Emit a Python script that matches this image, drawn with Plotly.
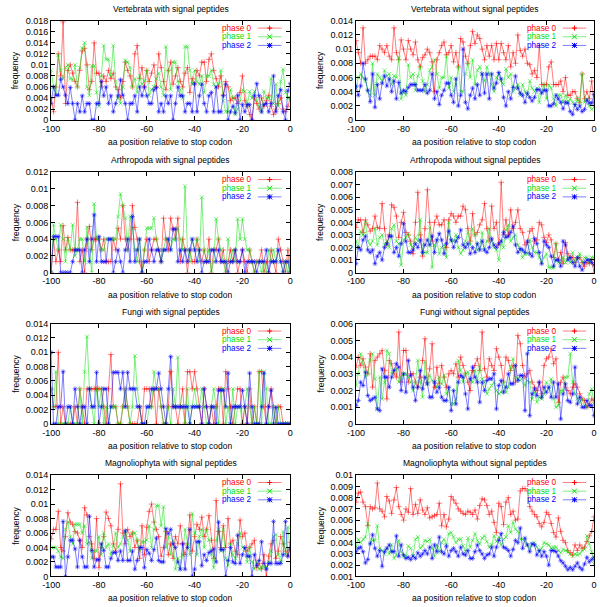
import plotly.graph_objects as go
from plotly.subplots import make_subplots

# positions along the sequence, aa relative to the stop codon
positions = list(range(-100, 1))

# frequencies, all given in units of 1e-3
vert_sp_p0 = [4, 1.5, 6, 12, 8, 17.8, 3, 9, 10, 8.5,
              7, 6, 9, 12.5, 13, 10, 5.5, 7, 14, 8.5,
              8.5, 6, 8, 7, 9, 7.5, 8.5, 6, 5.5, 4,
              7, 10.5, 9, 8, 6, 12, 13.5, 7.5, 9.5, 6,
              9, 7, 8.5, 10, 6, 12, 9.5, 7, 5.5, 9,
              10.5, 6.5, 8, 9.5, 7, 6, 8.5, 9.5, 5, 7.5,
              6.5, 9, 8, 10.5, 10.5, 7, 11, 12, 9, 7.5,
              6, 8, 4.5, 7, 6, 3.5, 4, 4, 3, 5,
              8, 3.5, 2.5, 1, 0, 4, 3, 2, 4, 2.5,
              3.5, 4.5, 2.5, 1, 2, 3, 4, 2, 1.5, 2.5, 4]
vert_sp_p1 = [9, 6, 5, 11.8, 9, 7.5, 9.5, 10, 7.5, 7.3,
              10, 6, 9.5, 13, 14, 6, 4.5, 9.8, 9.8, 5,
              2.5, 8, 13.5, 11, 11, 8, 13.5, 7, 4, 3,
              6, 10.8, 10.5, 9.5, 6, 7.5, 5, 8, 6.5, 7,
              9, 4.5, 5.5, 6, 7.5, 8.5, 6, 4.5, 13.3, 9,
              5.5, 10.5, 10.5, 7, 5.5, 4, 13.3, 13.3, 9, 6.5,
              9, 7, 6.5, 8, 5, 8, 8, 9, 6.5, 6,
              6.5, 9, 3.5, 1.5, 1.5, 5.5, 4, 1, 2, 3.5,
              5.5, 5.2, 2.5, 5.2, 4, 5.2, 3.5, 2.5, 1.5, 5.2,
              4, 4, 7.5, 3, 6.5, 2.5, 7, 9.2, 5, 4, 4]
vert_sp_p2 = [3, 6, 4.5, 4.5, 7.4, 6, 4.5, 3, 5.9, 3,
              0, 3, 1.5, 4.4, 1.5, 3, 3, 0, 0, 3,
              3, 7, 4.4, 6, 3, 4.4, 1.5, 3, 4.4, 7.3,
              4.5, 3, 0, 3, 3, 4.4, 1.5, 6, 4.4, 6,
              4.4, 3, 3, 5.5, 5.9, 1.5, 3, 1.5, 4.4, 3,
              4.4, 0, 3, 6, 4.4, 4.4, 1.5, 3, 3, 1.5,
              6.6, 1.5, 4.4, 6.5, 3, 1.5, 4.4, 5, 1.5, 6,
              1.5, 1.5, 4.4, 6.5, 0, 1.5, 2.5, 1.3, 4.5, 0,
              2.8, 1.5, 2.8, 2.8, 0, 4.4, 6.6, 4.4, 1.5, 2.8,
              3, 1.5, 3, 8, 1.5, 4.4, 5.5, 1.5, 0, 5.3, 6.6]

vert_nosp_p0 = [11.2, 9.5, 8, 13, 8, 8.5, 9, 9, 9, 8.5,
                10.5, 10, 9.5, 10.5, 9, 8.5, 13, 9.5, 8.5, 11.3,
                10, 8.5, 11.2, 10, 9.2, 11, 8.5, 7.5, 8.8, 9.2,
                10, 9.5, 8.2, 4, 8.5, 9.5, 10.5, 11, 9.2, 9.5,
                10.5, 8.2, 9.5, 7.5, 11.5, 11, 9, 8, 10.5, 12.5,
                10.8, 12, 11.5, 10, 8.5, 10.5, 9, 10.5, 8.5, 10.8,
                8.5, 10.8, 9.5, 8.5, 10.5, 7.5, 9.5, 8, 12, 9.8,
                9, 10, 8, 7.8, 6.5, 7, 6, 10.5, 5, 5,
                5, 7.5, 8.2, 5, 5, 5, 5.5, 4, 6, 3.5,
                3.5, 4, 4, 3, 2.5, 6.5, 3, 4, 3, 5.5, 2.5]
vert_nosp_p1 = [4.5, 6, 6.5, 6, 5.5, 4, 3.5, 8, 3.5, 6.5,
                6, 5.5, 7, 6.2, 6.5, 5, 6.2, 6, 8.8, 3,
                4, 3.5, 7.8, 6, 6.5, 4.2, 6.2, 7.5, 5.5, 4,
                5, 7, 7.5, 8.5, 6.5, 4.5, 6, 6, 9, 4.5,
                6, 4, 5, 7.5, 4, 4, 6.5, 8, 6, 8.5,
                5, 7, 7.5, 6.5, 5.5, 7.5, 6.5, 5, 4, 6,
                6.5, 5.5, 5, 7.2, 6, 6.5, 4, 4.5, 5, 3.5,
                5, 4, 3.5, 5.5, 4.5, 4, 4.5, 2.5, 4, 5,
                3, 5, 4.5, 3, 2, 3.5, 3.5, 2.5, 3.5, 2.5,
                3, 2.5, 2, 3, 2.5, 6.5, 2.5, 3, 2, 1.5, 1.8]
vert_nosp_p2 = [4.8, 3.5, 4.8, 8, 5.8, 4.2, 2.6, 6.5, 1.8, 5,
                3, 5.2, 6.2, 4.8, 5.8, 4, 5.5, 3, 5.3, 3.8,
                4.2, 4, 4.6, 5, 5, 5, 4.2, 4.2, 4.2, 5,
                3.8, 4.2, 6.5, 3, 4, 2.2, 3.5, 4.2, 5.2, 5.2,
                3.5, 2.5, 5.8, 2, 3.5, 10, 2.5, 1.6, 3.5, 4.5,
                3, 5, 3.5, 6.5, 3.8, 6.5, 3, 6.5, 4.5, 5.2,
                6.7, 5.8, 3.2, 2, 4, 3, 4.6, 6.2, 4.5, 3.8,
                3.5, 2.5, 3.8, 3.2, 2.7, 3.2, 4.3, 4.3, 3.8, 4.2,
                4.2, 2, 2, 2.3, 3.5, 3, 2.5, 1.6, 2.5, 2.4,
                1.2, 0.8, 2.2, 1.5, 2, 1.2, 1.5, 2.8, 2.4, 2.4, 3.6]

arth_sp_p0 = [0, 4, 1.3, 2.7, 1.3, 5.6, 2.7, 4.2, 2.7, 2.7,
              2.7, 8.4, 1.3, 2.7, 0, 4, 5.5, 2.7, 4, 4,
              4, 2.7, 4, 1.3, 1.3, 1.3, 4, 2.7, 5.3, 4,
              8, 4, 2.7, 4, 8, 5.4, 4, 1.3, 0, 2.7,
              4, 1.3, 2.7, 4, 4, 2.7, 1.3, 6.5, 4, 2.7,
              6.5, 5.2, 4, 6.5, 1.3, 4, 2.7, 0, 2.7, 1.3,
              1.3, 4, 2.7, 1.3, 2.7, 1.3, 4, 0, 2.7, 2.7,
              4, 1.3, 2.7, 0, 1.3, 2.7, 1.3, 2.7, 0, 1.3,
              2.7, 1.3, 0, 2.7, 1.3, 0, 1.3, 1.3, 2.7, 0,
              1.3, 0, 2.7, 1.3, 0, 4, 2.7, 1.3, 0, 2.7, 0]
arth_sp_p1 = [0, 5.7, 4, 2.7, 5.7, 4, 1.3, 4, 2.7, 5.7,
              2, 2.7, 4, 4, 1.3, 5.4, 2.7, 0, 8.2, 4,
              4, 2.7, 2.7, 4, 4, 4, 4, 4, 6.7, 9.4,
              8, 6.5, 2.7, 6.7, 5.3, 2.7, 1.3, 4, 0, 2.7,
              5.3, 5.3, 5.3, 6.5, 4, 2.7, 1.3, 2.7, 4, 4,
              2.7, 4, 4, 5.3, 4, 2.7, 10.3, 2.7, 1.3, 4,
              2.7, 4, 1.3, 9, 2.7, 1.3, 2.7, 0, 1.3, 6.4,
              4, 2.7, 1.3, 0, 4, 1.3, 2.7, 1.3, 6.4, 4,
              6.4, 4, 2.7, 2.7, 1.3, 0, 1.3, 1.3, 0, 1.3,
              0, 2.7, 1.3, 2.7, 1.3, 2.7, 1.3, 0, 1.3, 0, 2.7]
arth_sp_p2 = [0, 4.3, 4.3, 4.3, 0, 0, 0, 0, 0, 1.3,
              2.7, 2.7, 2.7, 0, 2.7, 4, 1.3, 4, 6.9, 1.3,
              4.3, 1.3, 1.3, 1.3, 4, 4, 0, 1.3, 2.7, 1.3,
              0, 2.7, 4, 1.3, 6.7, 1.3, 2.7, 4, 0, 1.3,
              1.3, 4, 2.7, 1.3, 2.7, 2.7, 1.3, 2.7, 2.7, 4,
              2.7, 5.2, 5.2, 1.3, 2.7, 1.3, 2.7, 1.3, 2.7, 4,
              2.7, 1.3, 2.7, 0, 1.3, 1.3, 1.3, 2.7, 2.7, 1.3,
              2.7, 1.3, 1.3, 1.3, 0, 1.3, 1.3, 2.7, 1.3, 1.3,
              2.7, 0, 1.3, 1.3, 1.3, 1.3, 0, 1.3, 1.3, 1.3,
              2.7, 0, 1.3, 1.3, 1.3, 2.7, 1.3, 0, 1.3, 1.3, 0]

arth_nosp_p0 = [3.6, 4.2, 4.2, 3.2, 4.2, 3.8, 3.3, 3.5, 4.5, 3.6,
                3.5, 5.5, 3.5, 2.2, 3, 5.4, 5.2, 4.5, 2.8, 4,
                4.8, 3.2, 3, 2.5, 1.5, 4, 6.4, 3, 1.3, 3.5,
                6.6, 4, 2.5, 4, 4.5, 3.8, 3.8, 4.2, 2, 4.2,
                4.7, 4.5, 4, 4.5, 4.5, 5.3, 5, 3.5, 2.5, 4.7,
                3, 3.2, 3.8, 4.2, 5.5, 3.5, 2.5, 5.3, 3.5, 4,
                2.2, 7.2, 3, 4.2, 3, 5, 3.5, 4, 5, 3.5,
                3.2, 2.2, 2.4, 3.3, 3.5, 2.5, 2.6, 4, 3.8, 2.8,
                2.4, 3, 2.6, 1.2, 2.3, 1, 1.6, 0.7, 2.4, 1.5,
                1.2, 1.2, 0.8, 1.1, 1.2, 0.8, 0.5, 0.8, 0.7, 1, 0]
arth_nosp_p1 = [2.5, 2, 3.3, 3, 4, 2.5, 2.2, 2.5, 3.5, 2.2,
                2.8, 3, 2.2, 2.5, 2, 3.5, 3.8, 2.5, 2.3, 0.6,
                2.6, 2.8, 3.1, 2.2, 2, 2.8, 2.5, 4.2, 1.5, 1.6,
                1.6, 3.6, 0.4, 2.2, 2.5, 1.5, 2, 2.2, 1.2, 4,
                2.5, 2.5, 3, 2, 1.5, 1.8, 2.5, 3.2, 2.2, 3.5,
                3, 1.8, 2, 3.2, 1.8, 2.5, 3.5, 2.5, 2, 1.8,
                1, 2.5, 2, 3.4, 3.8, 2.5, 2.8, 3, 2.2, 1.8,
                1.2, 1.5, 1.5, 2.6, 2, 1.6, 1.6, 1.2, 0.8, 1.2,
                1.5, 0.4, 0.4, 0.4, 2.3, 0.8, 0.8, 1.2, 0.8, 1.2,
                0.8, 1.6, 0.8, 1.2, 1.5, 0.8, 1.2, 1.2, 0.8, 1.2, 1.2]
arth_nosp_p2 = [0.7, 2, 1.8, 2.6, 2.9, 1.8, 1.6, 1.8, 0.7, 1.3,
                1.6, 1, 2, 2.3, 2.9, 2.9, 1.6, 2, 1.3, 2.3,
                3.9, 2.5, 1.6, 1.6, 1.8, 2.3, 2, 2.6, 1.6, 2.2,
                2.6, 2.2, 2.9, 1.6, 2.6, 3.1, 2.6, 1.5, 2.3, 3.3,
                2.6, 2, 2.5, 2.8, 3.4, 2.2, 2, 2.3, 1.5, 2,
                1.6, 2.3, 1.8, 2.5, 1.8, 1.6, 2, 2.7, 2.2, 2,
                2.3, 2.5, 3.2, 2.8, 2.9, 3.2, 3.7, 2.2, 1.6, 1.9,
                1.8, 1.6, 2.5, 1.5, 1.3, 2.7, 2.3, 1.6, 0.7, 2.5,
                2.2, 2, 1.3, 0.5, 1, 1, 0.5, 2.5, 2.2, 1,
                1.2, 0.8, 0.5, 1.2, 0.5, 0.2, 0.8, 1, 1, 0.8, 0.6]

fungi_sp_p0 = [4.9, 2.4, 2.4, 10, 0, 2.4, 0, 0, 0, 0,
               2.4, 0, 4.9, 2.4, 0, 4.9, 4.9, 4.9, 4.9, 4.9,
               4.9, 4.9, 2.4, 0, 4.9, 9.7, 2.4, 2.4, 0, 0,
               2.4, 4.9, 2.4, 0, 0, 0, 0, 2.4, 0, 4.9,
               4.9, 4.9, 2.4, 4.9, 0, 4.9, 2.4, 0, 0, 2.4,
               7.3, 2.4, 2.4, 0, 2.4, 4.9, 0, 7.3, 7.3, 4.9,
               7.3, 4.9, 2.4, 0, 4.9, 2.4, 0, 2.4, 0, 2.4,
               4.9, 4.9, 0, 7.3, 4.9, 2.4, 0, 2.4, 4.9, 4.9,
               0, 2.4, 0, 4.9, 0, 2.4, 0, 7.3, 7.3, 2.4,
               0, 2.4, 4.9, 2.4, 0, 2.4, 2.4, 0, 0, 0, 0]
fungi_sp_p1 = [4.9, 2.4, 7.3, 0, 0, 0, 0, 0, 2.4, 0,
               0, 0, 4.9, 0, 7.3, 12.2, 4.9, 2.4, 0, 4.9,
               2.4, 4.9, 0, 2.4, 0, 2.4, 2.4, 2.4, 0, 0,
               2.4, 4.9, 2.4, 0, 2.4, 9.5, 4.9, 2.4, 0, 0,
               0, 2.4, 2.4, 7.3, 4.9, 4.9, 2.4, 0, 0, 2.4,
               0, 4.9, 2.4, 9.3, 2.4, 2.4, 0, 4.9, 0, 2.4,
               4.9, 2.4, 2.4, 4.9, 2.4, 0, 0, 2.4, 4.9, 2.4,
               0, 4.9, 4.9, 0, 2.4, 0, 4.9, 0, 2.4, 2.4,
               0, 2.4, 4.9, 2.4, 0, 2.4, 0, 7.3, 0, 7.3,
               4.9, 0, 0, 2.4, 0, 2.4, 0, 0, 0, 0, 0]
fungi_sp_p2 = [10, 0, 0, 2.4, 2.4, 7.3, 0, 2.4, 2.4, 0,
               4.9, 2.4, 0, 2.4, 2.4, 0, 4.9, 2.4, 2.4, 7.2,
               0, 2.4, 4.9, 4.9, 0, 2.4, 7.2, 7.2, 7.2, 4.9,
               7.2, 2.4, 7.2, 4.9, 4.9, 4.9, 2.4, 2.4, 0, 0,
               2.4, 2.4, 4.9, 4.9, 4.9, 7.1, 4.9, 2.4, 0, 4.9,
               9.4, 2.4, 2.4, 2.4, 2.4, 2.4, 2.4, 2.4, 0, 2.4,
               2.4, 2.4, 2.4, 0, 4.9, 2.4, 0, 2.4, 2.4, 0,
               4.7, 4.7, 4.7, 2.4, 7.1, 0, 2.4, 2.4, 2.4, 2.4,
               4.7, 2.4, 0, 7.1, 2.4, 0, 0, 0, 2.4, 7.1,
               0, 2.4, 4.7, 0, 2.3, 0, 0, 0, 0, 0, 0]

fungi_nosp_p0 = [3.4, 4, 3.5, 3.9, 3.4, 3, 4.2, 2.2, 3.8, 4,
                 4.2, 4.4, 3.2, 1.5, 3.8, 3.6, 3, 2.8, 5.5, 2.5,
                 4.4, 4.4, 2.5, 3, 3, 2.5, 2.2, 2.8, 3.8, 5.1,
                 2.5, 3.3, 4.8, 2.2, 3.4, 2.4, 3.5, 2.8, 2.2, 3,
                 3.2, 3, 3.6, 2.8, 4, 3.5, 3, 2.5, 2, 3.2,
                 3.5, 3.9, 3.2, 5.5, 3.3, 2.8, 3.9, 3.5, 3.2, 4.5,
                 4, 3.5, 2.5, 4, 3.8, 3.2, 3.5, 2.5, 5.3, 4.8,
                 3.5, 2.8, 3, 3.2, 2.5, 2.2, 2, 2.5, 1.8, 3.5,
                 3.9, 4, 4.5, 3.6, 3.9, 1.3, 2.5, 2.8, 2.2, 2,
                 1.8, 2.2, 2.4, 2.2, 1.8, 1.5, 1.4, 1, 1.2, 1.5, 1.4]
fungi_nosp_p1 = [2.3, 3, 4.2, 3.6, 2.8, 3, 3.8, 4.2, 2.7, 0.9,
                 2.8, 1.5, 2.5, 4.4, 4.2, 3, 3.2, 3.3, 2.5, 2.8,
                 3, 3, 2.8, 2.5, 2, 2.5, 3.8, 2.5, 1.6, 3.7,
                 2.4, 2.9, 2.6, 2.5, 2.2, 2.8, 2.4, 2.9, 1.8, 2.1,
                 1.2, 1.2, 1.5, 3.8, 3.2, 2.5, 3, 3.1, 2.6, 2.5,
                 3.2, 2.6, 3.5, 2.7, 2.5, 1.8, 2.1, 2.3, 2.5, 2,
                 1.8, 1.9, 2.5, 1.9, 2.2, 3.4, 3.9, 2.8, 2.7, 2.6,
                 2.8, 2.3, 2.6, 2.5, 1.5, 1.9, 1.3, 1.6, 1.5, 1.8,
                 2.5, 2.1, 2.7, 1.5, 1, 1.1, 2, 2, 2.8, 2.8,
                 4.2, 2.5, 1.8, 1.5, 1.3, 1.5, 1.1, 1, 1.8, 2.1, 1.2]
fungi_nosp_p2 = [1.1, 1.4, 2.5, 2.3, 3.1, 1.7, 1.4, 1.5, 1.6, 0.9,
                 0.8, 3.3, 2.8, 2.8, 2.2, 2.8, 3.2, 3.6, 3.4, 2,
                 3, 1.9, 3.8, 2.9, 2.2, 1.4, 2.2, 3.2, 2.1, 2.8,
                 2.4, 1.6, 1.6, 2.5, 1.9, 2.2, 1.6, 1.4, 1.4, 2.2,
                 0.8, 2, 1.2, 2.5, 2.9, 2.8, 1.8, 0.9, 2.7, 3.4,
                 2.8, 2.5, 1.3, 2.5, 2, 2.6, 2.7, 2.7, 3, 0.9,
                 2.3, 2.6, 1.9, 2.2, 3, 2.4, 2.4, 3.5, 2.6, 2.9,
                 2.9, 0.8, 4.2, 0.5, 1.8, 2.1, 1.7, 2.5, 1.6, 2.2,
                 1.9, 2.2, 1.6, 2.5, 1.6, 2.4, 0.3, 1.8, 2.4, 1.4,
                 1.3, 1.8, 3.4, 1.2, 1.6, 1, 1, 1.4, 1.1, 1.1, 0.5]

magn_sp_p0 = [5.2, 6.5, 6.5, 9, 4, 3.5, 5.5, 8.8, 7.5, 7.2,
              6.2, 6, 5, 4, 9.5, 8.5, 5.5, 4.5, 2.5, 8,
              1.2, 4, 5.5, 8.9, 8, 7, 4.5, 3.5, 6.5, 12.8,
              6, 4.5, 6.5, 5.5, 6, 4, 5, 2.5, 7, 3,
              6.8, 9, 10, 7.5, 6.5, 5.5, 2.8, 4, 6.2, 3,
              4.5, 2.5, 5.5, 4.5, 7, 4.5, 3, 4.5, 8.5, 3.5,
              5.5, 7.2, 6.5, 8.2, 5.5, 6.5, 8.4, 5, 2.5, 10.5,
              6.2, 4, 7, 4, 8, 4.5, 5, 3.5, 3, 7.8,
              5.5, 6, 3.5, 4, 4.5, 5, 1.2, 1.8, 1, 3,
              0, 2.8, 4.5, 5, 2.5, 3.5, 5.5, 4.5, 3.5, 2.8, 4.7]
magn_sp_p1 = [4, 4, 4, 3.5, 2.7, 2.5, 6.5, 7.5, 5.5, 4.5,
              7.2, 7.2, 7.2, 6, 7, 4.5, 4.8, 2.5, 3.5, 3.5,
              5.5, 3, 6, 4, 4.5, 3, 4.2, 6, 4, 4.5,
              5.5, 6.2, 5, 3.5, 6, 6, 5, 3.5, 4.8, 4.8,
              5, 7, 4, 6.5, 9.8, 9.8, 7, 9.6, 4, 5.5,
              3, 5, 1, 2.5, 1, 3, 6.5, 4.5, 3, 8.7,
              6, 3, 5.5, 6.5, 4, 6.5, 5, 3, 1.2, 5,
              6.5, 3.5, 6.5, 2.5, 1.5, 4.5, 3, 2.5, 4.5, 6,
              4, 3.8, 2, 4, 2, 1, 2, 1, 1.3, 1.3,
              1.3, 2, 3.5, 5.5, 5.8, 3, 2, 6.2, 3, 6.8, 3.5]
magn_sp_p2 = [2.7, 2.7, 1.3, 1.3, 1.3, 7.6, 0, 2.7, 5, 5,
              3.8, 1.3, 5, 2.7, 1.3, 1.3, 8.3, 3.6, 1.3, 2.3,
              2.3, 4.5, 3.6, 1.3, 1.3, 2.5, 3.3, 3.3, 2.2, 3.5,
              2.2, 6.3, 2.2, 2.2, 3.5, 1, 2.2, 4, 4, 1.2,
              3.7, 3.2, 2.2, 3.7, 5.3, 2.2, 2, 2, 6.6, 5.9,
              6.5, 4.5, 4, 2, 1, 4.5, 1, 4, 6.5, 0,
              1, 4.8, 4.8, 1.5, 3, 2.2, 3.3, 3.5, 3.8, 2,
              7.5, 3.7, 3.7, 0, 2.2, 4, 2, 1.8, 5.7, 1.8,
              3, 4, 2.8, 2.8, 0, 3, 1.5, 2.2, 4.8, 1.8,
              1, 1.8, 1.8, 7.6, 1.8, 1.8, 1.8, 3, 7.6, 2.8, 3.8]

magn_nosp_p0 = [7.6, 8.4, 8.5, 7.6, 7.2, 5.5, 7.2, 7, 7.1, 9.3,
                7, 6.8, 6.3, 8.1, 7.7, 6.6, 7.8, 8.9, 7.2, 6.5,
                6, 7, 6.7, 8.8, 6.5, 7.4, 6.6, 7.8, 6.9, 6.5,
                7.1, 6.2, 6.3, 6.4, 6.5, 7.5, 5.5, 6.5, 5.4, 6.1,
                8.1, 7.8, 7.5, 7, 6.8, 6.6, 6.5, 6.8, 6.7, 6.5,
                6.9, 6.1, 7.3, 7.9, 7.8, 7.3, 6.5, 6.8, 5.8, 4.9,
                7.5, 7.2, 5.6, 7.6, 8, 6.5, 6.8, 6, 6.1, 8.6,
                8.8, 8.8, 8.6, 7.2, 6.8, 6.5, 6.3, 5.7, 5.4, 5.8,
                6.7, 6.5, 5.7, 4.9, 4.5, 6.2, 5, 4.2, 4, 3.3,
                3.1, 2.9, 3.8, 3.3, 3.8, 3.5, 3.6, 4.1, 4.6, 5, 6.3]
magn_nosp_p1 = [3.6, 4.3, 4, 4.3, 4.5, 5.7, 4, 4.2, 4.2, 5.5,
                3.5, 3.3, 3, 3.5, 3, 3.8, 2.6, 2.9, 4.2, 3.2,
                2.8, 2.8, 3.7, 3.5, 2.8, 4.3, 4.5, 3.5, 3.7, 4.2,
                4.1, 4.3, 3.5, 2.8, 3.8, 3.2, 4, 4.3, 3.8, 4.8,
                4.9, 4.5, 4, 4.3, 4.3, 3.7, 3.2, 4.4, 3.6, 4.2,
                4.8, 4.2, 3.9, 4.4, 4.6, 4.1, 3.6, 3.8, 4.6, 4.1,
                4.5, 3.8, 4.3, 4.5, 5.5, 4.9, 5.8, 5.2, 5, 4.3,
                4.3, 4.1, 3.8, 3.5, 3.9, 4, 3.6, 3.2, 3.5, 4,
                3.9, 3.8, 3.5, 3.6, 3.6, 3.3, 3.1, 3.4, 3.3, 3.2,
                3, 2.8, 3, 2.9, 3, 3.3, 3.4, 4.6, 3.9, 3.2, 2.1]
magn_nosp_p2 = [3.2, 3.5, 3.6, 3.2, 2.2, 2.5, 3.9, 4.7, 3.5, 2.8,
                3.3, 1.9, 3.2, 3.5, 3.8, 3.2, 3.2, 4.6, 2.8, 3.8,
                2.9, 2.6, 2.7, 2.5, 2.8, 2.6, 3.1, 2.8, 3, 3.3,
                3, 3.6, 2.6, 3.8, 3.2, 4.5, 3.2, 3, 3.7, 2.8,
                3.3, 3.5, 3.2, 2.8, 3.6, 3, 2.9, 3.3, 2.6, 2.6,
                3.2, 3.8, 3.3, 3, 2.6, 2.9, 3, 3.6, 2.8, 3.6,
                4.2, 4.8, 3.6, 3.5, 3.3, 2.8, 3.4, 4.2, 4, 5.3,
                3.5, 4.4, 3.8, 3.2, 3.9, 3.8, 2.9, 3.3, 2.8, 3.2,
                2.8, 2, 3.3, 3.3, 3.2, 2.8, 2.4, 2.2, 1.9, 1.6,
                1.8, 1.6, 1.9, 2.2, 1.8, 1.6, 2.1, 2.7, 2.3, 2.5, 2.7]

titles = ["Vertebrata with signal peptides", "Vertebrata without signal peptides",
          "Arthropoda with signal peptides", "Arthropoda without signal peptides",
          "Fungi with signal peptides", "Fungi without signal peptides",
          "Magnoliophyta with signal peptides", "Magnoliophyta without signal peptides"]
series = [(vert_sp_p0, vert_sp_p1, vert_sp_p2), (vert_nosp_p0, vert_nosp_p1, vert_nosp_p2),
          (arth_sp_p0, arth_sp_p1, arth_sp_p2), (arth_nosp_p0, arth_nosp_p1, arth_nosp_p2),
          (fungi_sp_p0, fungi_sp_p1, fungi_sp_p2), (fungi_nosp_p0, fungi_nosp_p1, fungi_nosp_p2),
          (magn_sp_p0, magn_sp_p1, magn_sp_p2), (magn_nosp_p0, magn_nosp_p1, magn_nosp_p2)]
# y range (low, high, tick step) of each panel, in units of 1e-3
y_ranges = [(0, 18, 2), (0, 14, 2), (0, 12, 2), (0, 8, 1),
            (0, 14, 2), (0, 6, 1), (0, 14, 2), (1, 10, 1)]
x_ticks = [-100, -80, -60, -40, -20, 0]

phase_names = ["phase 0", "phase 1", "phase 2"]
phase_colors = ["#ff0000", "#00e000", "#0000ff"]
line_colors = ["rgba(255,0,0,0.5)", "rgba(0,224,0,0.5)", "rgba(0,0,255,0.5)"]
phase_symbols = ["cross-thin-open", "x-thin-open", "asterisk-open"]
legend_paths = ["M-2.5,0H2.5M0,-2.5V2.5", "M-2.5,-2.5L2.5,2.5M-2.5,2.5L2.5,-2.5",
                "M-2.5,0H2.5M0,-2.5V2.5M-2.5,-2.5L2.5,2.5M-2.5,2.5L2.5,-2.5"]

W, H = 600, 607
col_px = [(43, 287), (354, 597)]
row_px = [(16, 117), (170, 272), (324, 426), (478, 581)]
FONT = "Liberation Sans, Arial, sans-serif"

fig = make_subplots(rows=4, cols=2)
annotations = []
shapes = []

for i, (title, trio, (ylo, yhi, ystep)) in enumerate(zip(titles, series, y_ranges)):
    r, c = divmod(i, 2)
    suffix = "" if i == 0 else str(i + 1)
    left, right = col_px[c]
    top, bottom = row_px[r]
    xd = [left / W, right / W]
    yd = [1 - bottom / H, 1 - top / H]

    for k in range(3):
        fig.add_trace(go.Scatter(
            x=positions, y=[v / 1000 for v in trio[k]], mode="lines+markers",
            line=dict(color=line_colors[k], width=1),
            marker=dict(symbol=phase_symbols[k], size=4,
                        line=dict(color=phase_colors[k], width=1)),
            name=phase_names[k], showlegend=False), row=r + 1, col=c + 1)

    yticks = [(ylo + j * ystep) / 1000 for j in range((yhi - ylo) // ystep + 1)]
    axis_style = dict(showline=True, linecolor="black", linewidth=1, mirror="ticks",
                      ticks="inside", ticklen=4, tickcolor="black", showgrid=False,
                      zeroline=False, ticklabeloverflow="allow",
                      tickfont=dict(family=FONT, size=9, color="black"))
    fig.update_xaxes(domain=xd, range=[-100, 0], tickvals=x_ticks,
                     ticktext=[str(t) for t in x_ticks], row=r + 1, col=c + 1, **axis_style)
    fig.update_yaxes(domain=yd, range=[ylo / 1000, yhi / 1000], tickvals=yticks,
                     ticktext=[f"{v:g}" for v in yticks], row=r + 1, col=c + 1, **axis_style)

    xr, yr = f"x{suffix} domain", f"y{suffix} domain"
    annotations.append(dict(text=title, xref=xr, yref=yr, x=0.5, y=1, yanchor="bottom",
                            yshift=5, showarrow=False, font=dict(family=FONT, size=8.5)))
    annotations.append(dict(text="aa position relative to stop codon", xref=xr, yref=yr,
                            x=0.5, y=0, yanchor="top", yshift=-15, showarrow=False,
                            font=dict(family=FONT, size=8.5)))
    annotations.append(dict(text="frequency", xref="paper", yref=yr,
                            x=(left - 36) / W, xanchor="center", y=0.5, yanchor="middle",
                            textangle=-90, showarrow=False, font=dict(family=FONT, size=8.5)))

    # gnuplot-style key: label on the left, sample on the right
    pw, ph = right - left, bottom - top
    for k in range(3):
        ky = 1 - (7.5 + 8.8 * k) / ph
        annotations.append(dict(text=phase_names[k], xref=xr, yref=yr, x=207 / pw, y=ky,
                                xanchor="right", yanchor="middle", showarrow=False,
                                font=dict(family=FONT, size=8.2, color=phase_colors[k])))
        shapes.append(dict(type="line", xref=xr, yref=yr, x0=211 / pw, x1=235 / pw,
                           y0=ky, y1=ky, line=dict(color=line_colors[k], width=1)))
        shapes.append(dict(type="path", xref=xr, yref=yr, xsizemode="pixel",
                           ysizemode="pixel", xanchor=223 / pw, yanchor=ky,
                           path=legend_paths[k], line=dict(color=phase_colors[k], width=1)))

fig.update_layout(width=W, height=H, margin=dict(l=0, r=0, t=0, b=0),
                  plot_bgcolor="white", paper_bgcolor="white",
                  font=dict(family=FONT, size=9, color="black"),
                  annotations=annotations, shapes=shapes, showlegend=False)
# the page's default 8px body margin would push the figure off the window
fig.write_html("out.html", config={"displayModeBar": False},
               post_script="document.body.style.margin = '0';")
